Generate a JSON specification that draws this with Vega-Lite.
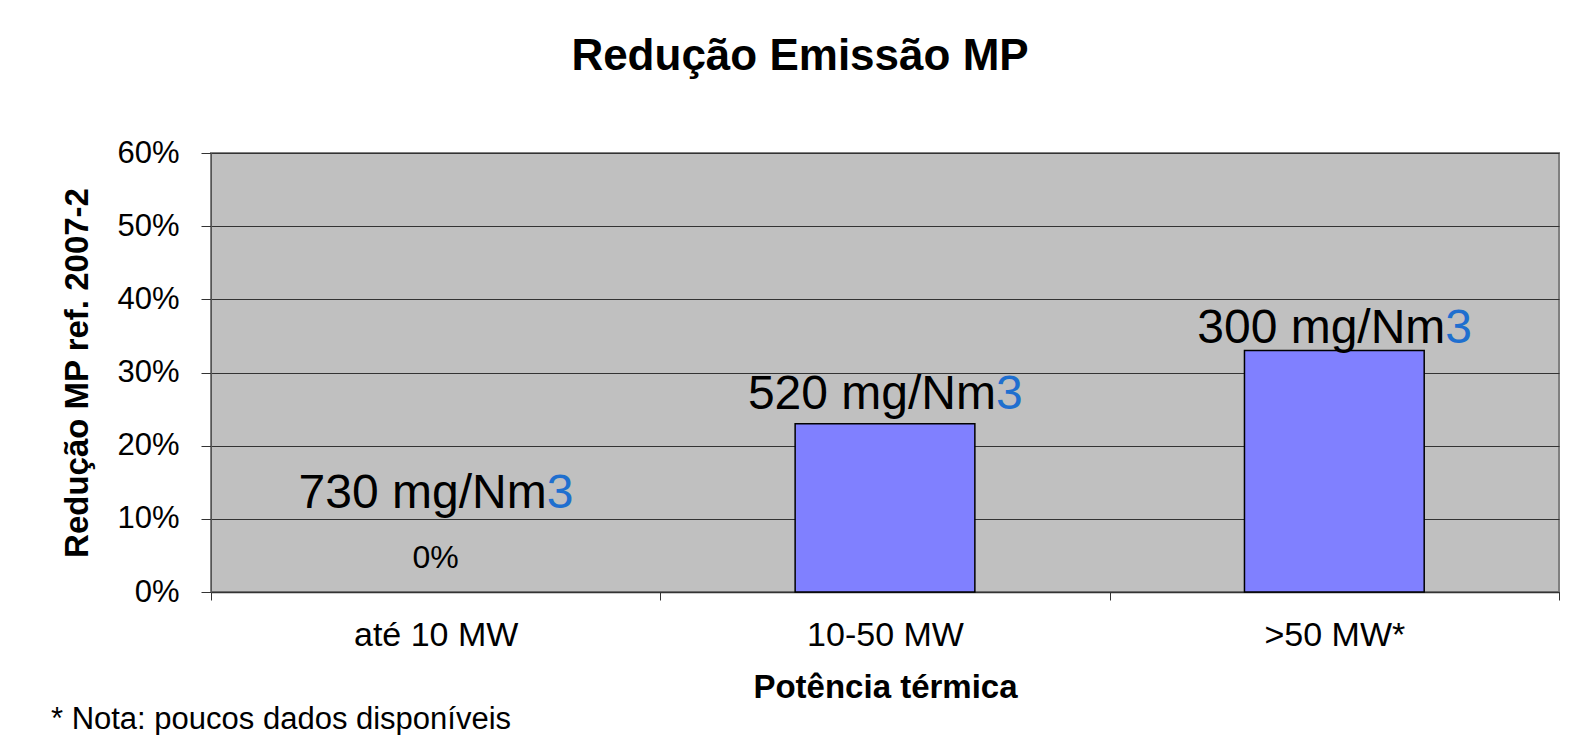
{
  "$schema": "https://vega.github.io/schema/vega-lite/v6.json",
  "background": "white",
  "padding": {"left": 50, "top": 34, "right": 0, "bottom": 0},
  "config": {
    "font": "Liberation Sans",
    "view": {"fill": "#c0c0c0", "stroke": "#808080", "strokeWidth": 2}
  },
  "title": {
    "text": "* Nota: poucos dados disponíveis",
    "orient": "bottom",
    "anchor": "start",
    "frame": "bounds",
    "fontSize": 31,
    "fontWeight": "normal",
    "color": "black",
    "offset": 0,
    "dx": -10
  },
  "vconcat": [
    {
      "title": {
        "text": "Redução Emissão MP",
        "fontSize": 44,
        "fontWeight": "bold",
        "color": "black",
        "anchor": "middle",
        "frame": "group",
        "offset": 58,
        "dx": -85
      },
      "width": 1348,
      "height": 439,
      "data": {
        "values": [
          {"potencia": "até 10 MW", "reducao": 0, "limite": "730 mg/Nm", "rotuloEm": 0.115},
          {"potencia": "10-50 MW", "reducao": 0.23, "limite": "520 mg/Nm", "rotuloEm": 0.25},
          {"potencia": ">50 MW*", "reducao": 0.33, "limite": "300 mg/Nm", "rotuloEm": 0.341}
        ]
      },
      "encoding": {
        "x": {
          "field": "potencia",
          "type": "nominal",
          "sort": ["até 10 MW", "10-50 MW", ">50 MW*"],
          "scale": {"domain": ["até 10 MW", "10-50 MW", ">50 MW*"], "paddingInner": 0, "paddingOuter": 0},
          "axis": {
            "title": "Potência térmica",
            "titleFontSize": 33,
            "titleFontWeight": "bold",
            "titleColor": "black",
            "titlePadding": 19,
            "labelFontSize": 34,
            "labelColor": "black",
            "labelAngle": 0,
            "labelPadding": 18,
            "tickSize": 8,
            "tickBand": "extent",
            "tickColor": "#333333",
            "domainColor": "#333333",
            "domainWidth": 1.5,
            "grid": false
          }
        }
      },
      "layer": [
        {
          "transform": [{"filter": "datum.reducao > 0"}],
          "mark": {"type": "bar", "fill": "#8080ff", "stroke": "black", "strokeWidth": 1.5, "width": {"band": 0.4}},
          "encoding": {
            "y": {
              "field": "reducao",
              "type": "quantitative",
              "scale": {"domain": [0, 0.6], "nice": false},
              "axis": {
                "title": "Redução MP ref. 2007-2",
                "titleFontSize": 33,
                "titleFontWeight": "bold",
                "titleColor": "black",
                "titlePadding": 22,
                "labelFontSize": 31,
                "labelColor": "black",
                "labelPadding": 22,
                "format": ".0%",
                "values": [0, 0.1, 0.2, 0.3, 0.4, 0.5, 0.6],
                "tickSize": 10,
                "tickColor": "#333333",
                "domainColor": "#555555",
                "grid": true,
                "gridColor": "#333333",
                "gridWidth": 1
              }
            }
          }
        },
        {
          "transform": [{"filter": "datum.reducao == 0"}],
          "mark": {"type": "text", "fontSize": 32, "color": "black", "baseline": "alphabetic", "dy": -24},
          "encoding": {
            "y": {"field": "reducao", "type": "quantitative"},
            "text": {"field": "reducao", "type": "quantitative", "format": ".0%"}
          }
        },
        {
          "mark": {"type": "text", "fontSize": 48, "color": "black", "align": "right", "baseline": "alphabetic", "dx": 111},
          "encoding": {
            "y": {"field": "rotuloEm", "type": "quantitative"},
            "text": {"field": "limite", "type": "nominal"}
          }
        },
        {
          "mark": {"type": "text", "text": "3", "fontSize": 48, "color": "#1f6fcf", "align": "left", "baseline": "alphabetic", "dx": 111},
          "encoding": {
            "y": {"field": "rotuloEm", "type": "quantitative"}
          }
        }
      ]
    }
  ]
}
